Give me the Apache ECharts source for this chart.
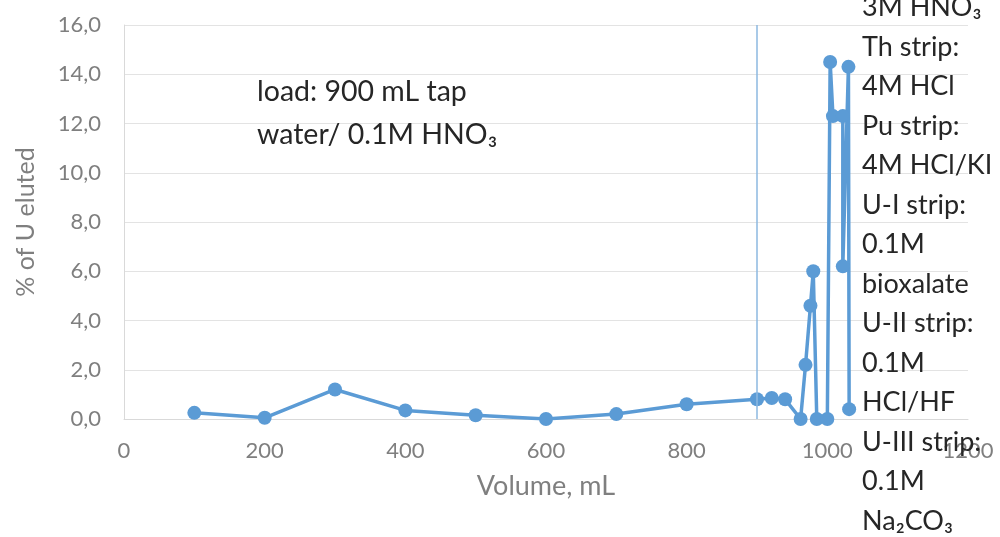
<!DOCTYPE html>
<html><head><meta charset="utf-8">
<script src="https://cdn.jsdelivr.net/npm/echarts@6/dist/echarts.min.js"></script>
<style>html,body{margin:0;padding:0;background:#fff}#c{width:1000px;height:537px}</style>
</head><body><div id="c"></div>
<script>
// Volume (mL) and % of U eluted, in data order
const volume = [100,200,300,400,500,600,700,800,900,921,940,962,969,976,980,985,1000,1004,1008,1022,1022,1030,1031];
const uEluted = [0.25,0.05,1.2,0.35,0.15,0.0,0.2,0.6,0.8,0.85,0.8,0.0,2.2,4.6,6.0,0.0,0.0,14.5,12.3,12.3,6.2,14.3,0.4];
const loadEnd = 900;
const loadText = ['load: 900 mL tap','water/ 0.1M HNO₃'];
const stripText = ['3M HNO₃','Th strip:','4M HCl','Pu strip:','4M HCl/KI','U-I strip:','0.1M','bioxalate','U-II strip:','0.1M','HCl/HF','U-III strip:','0.1M','Na₂CO₃'];

const chart = echarts.init(document.getElementById('c'));
const font = 'Lato, "Open Sans", sans-serif';
chart.setOption({
  animation:false,
  grid:{left:124,right:32,top:25,bottom:118},
  xAxis:{type:'value',min:0,max:1200,interval:200,
    name:'Volume, mL',nameLocation:'middle',nameGap:54,
    nameTextStyle:{color:'#7f7f7f',fontSize:27,fontFamily:font},
    axisLine:{lineStyle:{color:'#d9d9d9'}},axisTick:{show:false},
    axisLabel:{color:'#7f7f7f',fontSize:22,fontFamily:font,margin:21,formatter:v=>String(v)},
    splitLine:{show:false}},
  yAxis:{type:'value',min:0,max:16,interval:2,
    name:'% of U eluted',nameLocation:'middle',nameGap:86,
    nameTextStyle:{color:'#7f7f7f',fontSize:25,fontFamily:font},
    axisLine:{show:true,lineStyle:{color:'#d9d9d9'}},axisTick:{show:false},
    axisLabel:{color:'#7f7f7f',fontSize:22,fontFamily:font,margin:23,formatter:v=>v.toFixed(1).replace('.',',')},
    splitLine:{lineStyle:{color:'#e3e3e3'}}},
  series:[{type:'line',data:volume.map((v,i)=>[v,uEluted[i]]),
    symbol:'circle',symbolSize:14,
    lineStyle:{color:'#5b9bd5',width:3.5},itemStyle:{color:'#5b9bd5'},
    markLine:{silent:true,symbol:'none',label:{show:false},
      lineStyle:{color:'#8db8e0',width:1.5,type:'solid'},
      data:[{xAxis:loadEnd}]}}],
  graphic:[
    {type:'text',left:257,top:70,z:100,style:{text:loadText.join('\n'),fontSize:28.5,lineHeight:43,fill:'#262626',fontFamily:font}},
    {type:'text',left:862,top:-12,z:100,style:{text:stripText.join('\n'),fontSize:27,lineHeight:39.5,fill:'#262626',fontFamily:font}}
  ]
});
</script></body></html>
